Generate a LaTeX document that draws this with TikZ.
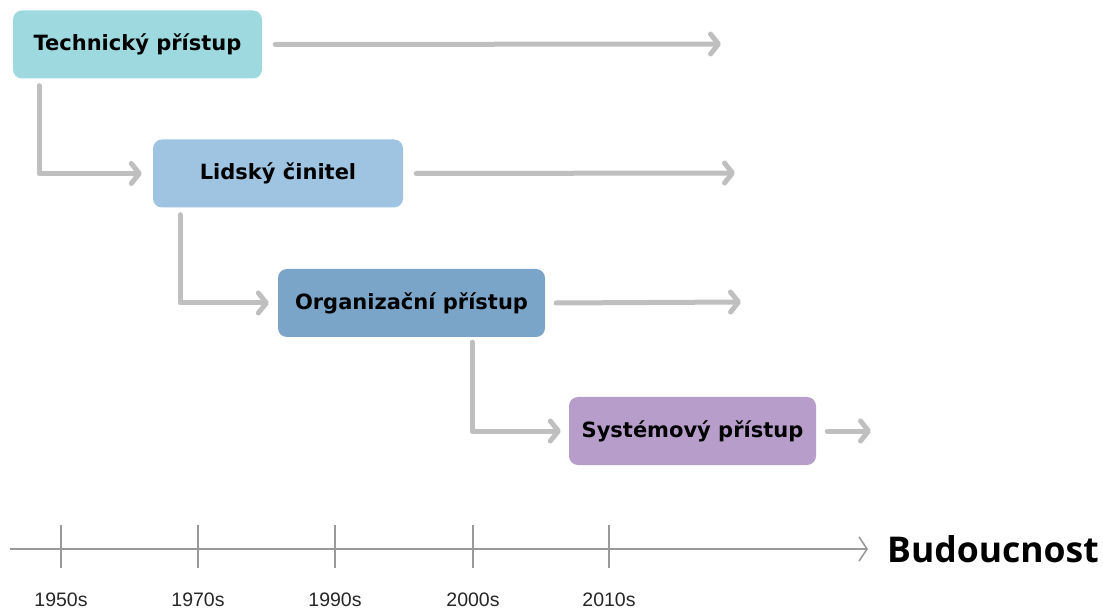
\documentclass[tikz,border=0pt]{standalone}
\usepackage{fontspec}
\setmainfont{DejaVu Sans}
\newfontfamily\yearfont{Liberation Sans}
\newfontfamily\futurefont{Open Sans}
\usetikzlibrary{arrows.meta}
\definecolor{cTech}{HTML}{9DD9DE}
\definecolor{cLid}{HTML}{9EC4E1}
\definecolor{cOrg}{HTML}{7BA4C9}
\definecolor{cSys}{HTML}{B69DCA}
\definecolor{flowgray}{HTML}{BFBFBF}
\definecolor{axisgray}{HTML}{999999}
\begin{document}
\begin{tikzpicture}[x=1pt,y=-1pt,
  phase/.style={rounded corners=9pt, minimum height=68pt, inner sep=0pt,
    font=\fontsize{21}{24}\selectfont\bfseries, text=black},
  flow/.style={draw=flowgray, line width=5pt, line cap=round, line join=round,
    -{Straight Barb[length=8pt, width=20pt, line cap=round, line join=round]}},
  axis/.style={draw=axisgray, line width=2pt},
  year/.style={font=\yearfont\fontsize{19.5}{22}\selectfont, text=black!85}]
\useasboundingbox (0,0) rectangle (1103,609);

% phases
\node[phase, fill=cTech, minimum width=249pt] (tech) at (137.5,44.5) {Technický přístup};
\node[phase, fill=cLid, minimum width=250pt] (lid) at (278,173.5) {Lidský činitel};
\node[phase, fill=cOrg, minimum width=267pt] (org) at (411.5,303) {Organizační přístup};
\node[phase, fill=cSys, minimum width=247pt] (sys) at (692.5,431) {Systémový přístup};

% continuation ends
\coordinate (techEnd) at (721,44);
\coordinate (lidEnd) at (735,173);
\coordinate (orgEnd) at (741,302);
\coordinate (sysEnd) at (871,431);

\draw[flow] ([xshift=13pt]tech.east) -- (techEnd);
\draw[flow] ([xshift=13pt]lid.east) -- (lidEnd);
\draw[flow] ([xshift=11pt]org.east) -- (orgEnd);
\draw[flow] ([xshift=11pt]sys.east) -- (sysEnd);

% transitions between phases
\draw[flow] ([xshift=-98.5pt,yshift=-7pt]tech.south) |- ([xshift=-11pt]lid.west);
\draw[flow] ([xshift=-98pt,yshift=-7pt]lid.south) |- ([xshift=-9pt]org.west);
\draw[flow] ([xshift=60.5pt,yshift=-5pt]org.south) |- ([xshift=-8pt]sys.west);

% time axis
\coordinate (axStart) at (10,549);
\coordinate (axEnd) at (868,549);
\draw[axis, -{Straight Barb[length=8pt, width=24pt, line width=1.6pt]}] (axStart) -- (axEnd);
\node[anchor=west, font=\futurefont\fontsize{35.5}{40}\selectfont\bfseries, inner sep=0pt] (future) at (887,549) {Budoucnost};

\foreach \x/\y/\n in {61/1950s/t1, 198/1970s/t2, 335/1990s/t3, 473/2000s/t4, 609/2010s/t5} {
  \coordinate (\n top) at (\x,525);
  \coordinate (\n bot) at (\x,568);
  \draw[axis] (\n top) -- (\n bot);
  \node[year] (\n lab) at (\x,599.5) {\y};
}
\end{tikzpicture}
\end{document}
